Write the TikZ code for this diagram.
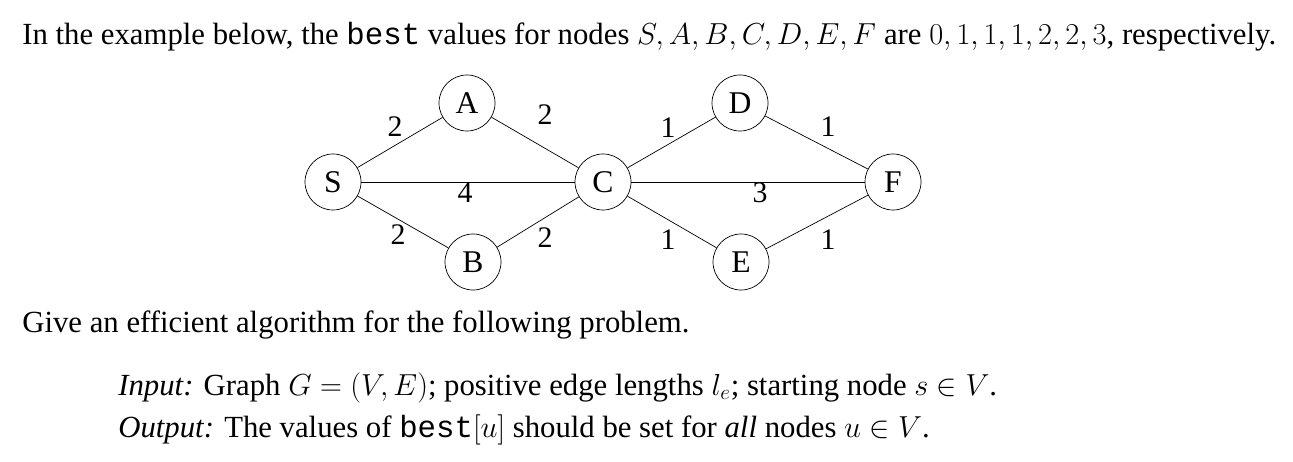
\documentclass[tikz,border=0pt]{standalone}
\usepackage{amsmath}
\usepackage{fontspec}
\setmainfont{Liberation Serif}
\setmonofont{Liberation Mono}
\begin{document}
\begin{tikzpicture}[x=0.02cm,y=-0.02cm,
  v/.style={circle,draw,minimum size=56*0.02cm,inner sep=0pt,font=\fontsize{18}{19}\selectfont},
  w/.style={font=\fontsize{17}{19}\selectfont},
  t/.style={anchor=base west,inner sep=0pt,font=\fontsize{17.5}{20}\selectfont}]
\useasboundingbox (0,0) rectangle (1293,462);
\node[t] (l1) at (22,45) {In the example below, the \texttt{best} values for nodes $S,A,B,C,D,E,F$ are $0,1,1,1,2,2,3$, respectively.};
\node[v] (S) at (333,182) {S};
\node[v] (A) at (467,103) {A};
\node[v] (B) at (473,262) {B};
\node[v] (C) at (603,182) {C};
\node[v] (D) at (740,103) {D};
\node[v] (E) at (741,262) {E};
\node[v] (F) at (893,182) {F};
\draw (S)--(A); \draw (A)--(C); \draw (S)--(C); \draw (S)--(B); \draw (B)--(C);
\draw (C)--(D); \draw (C)--(F); \draw (C)--(E); \draw (D)--(F); \draw (E)--(F);
\node[w] (w1) at (395,127) {2};
\node[w] (w2) at (545,115) {2};
\node[w] (w3) at (465,193) {4};
\node[w] (w4) at (398,235) {2};
\node[w] (w5) at (545,238) {2};
\node[w] (w6) at (668,128) {1};
\node[w] (w7) at (760,193) {3};
\node[w] (w8) at (668,240) {1};
\node[w] (w9) at (828,127) {1};
\node[w] (w10) at (828,240) {1};
\node[t] (l2) at (22,332) {Give an efficient algorithm for the following problem.};
\node[t] (l3) at (118,395) {\textit{Input:} Graph $G=(V,E)$; positive edge lengths $l_e$; starting node $s\in V$.};
\node[t] (l4) at (118,437) {\textit{Output:} The values of \texttt{best}$[u]$ should be set for \textit{all} nodes $u\in V$.};
\end{tikzpicture}
\end{document}
